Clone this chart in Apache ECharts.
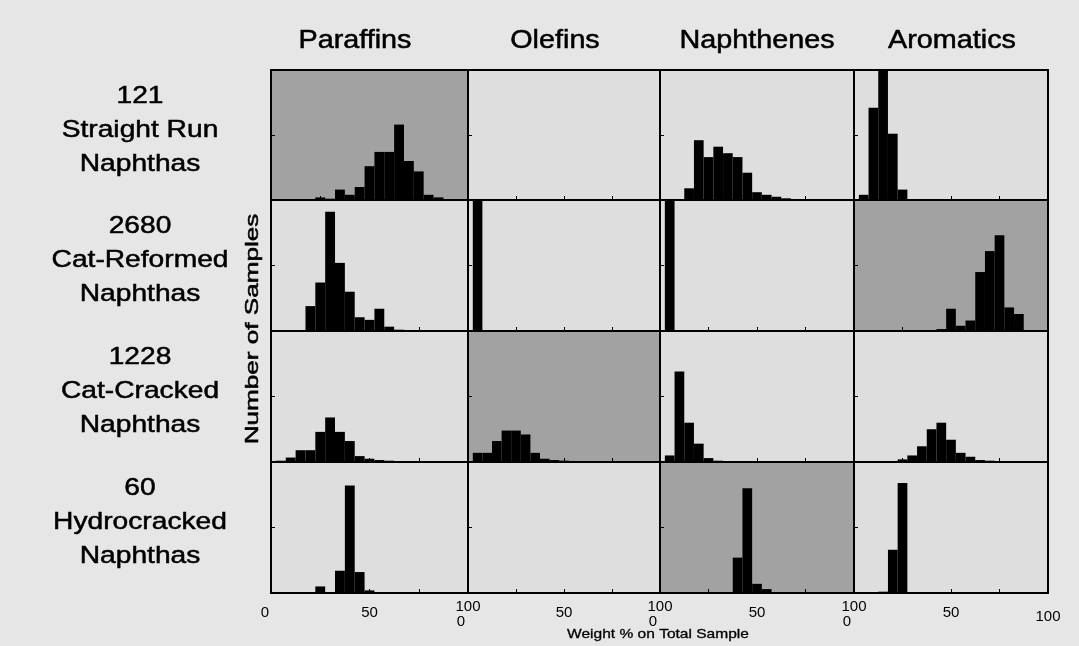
<!DOCTYPE html>
<html><head><meta charset="utf-8">
<script src="https://cdn.jsdelivr.net/npm/echarts@6/dist/echarts.min.js"></script>
<style>html,body{margin:0;padding:0;background:#e6e6e6}#c{width:1079px;height:646px}</style>
</head><body><div id="c"></div>
<script>
// ---- data ----
const binCentres = [0,5,10,15,20,25,30,35,40,45,50,55,60,65,70,75,80,85,90,95,100];
const groups = ['Paraffins','Olefins','Naphthenes','Aromatics'];
const sampleCounts = ['121','2680','1228','60'];
const naphthaTypes = ['Straight Run','Cat-Reformed','Cat-Cracked','Hydrocracked'];

// relative heights (Number of Samples, panel-scaled) per 5 wt% bin
const straightRunParaffins  = [0,0,0,0,0,2,1,8,4,10,26,37,37,58,30,22,4,2,0,0,0];
const straightRunOlefins    = [0,0,0,0,0,0,0,0,0,0,0,0,0,0,0,0,0,0,0,0,0];
const straightRunNaphthenes = [0,0,0,9,46,33,41,36,33,21,6,4,2.5,1.3,0.5,0,0,0,0,0,0];
const straightRunAromatics  = [0,4,71,100,51,8,0.5,0.5,0,0,0,0,0,0,0,0,0,0,0,0,0];

const catReformedParaffins  = [0,0,0,0,19,37,91,52,30,10.5,8.5,17,3.3,1,0,0,0,0,0,0,0];
const catReformedOlefins    = [0,100,0,0,0,0,0,0,0,0,0,0,0,0,0,0,0,0,0,0,0];
const catReformedNaphthenes = [0,100,0,0,0,0,0,0,0,0,0,0,0,0,0,0,0,0,0,0,0];
const catReformedAromatics  = [0,0,0,0,0,0,0,0,0,1.5,17,4,8,45,61,73,18,13,0,0,0];

const catCrackedParaffins   = [0,1,3.4,9,9,23,34,23,16,4.5,2.5,1.5,1,0.5,0,0,0,0,0,0,0];
const catCrackedOlefins     = [0,7,7,16,24,24,21,7,2.5,1.5,1,0.5,0.5,0,0,0,0,0,0,0,0];
const catCrackedNaphthenes  = [0,5,69,30,14,3,1,0.5,0,0,0,0,0,0,0,0,0,0,0,0,0];
const catCrackedAromatics   = [0,0,0.5,0.5,0.5,2,5,12,25,30,17,7,4,1.5,1,0,0,0,0,0,0];

const hydrocrackedParaffins  = [0,0,0,0,0,5,0,17,82,16,2,0,0,0,0,0,0,0,0,0,0];
const hydrocrackedOlefins    = [0,0,0,0,0,0,0,0,0,0,0,0,0,0,0,0,0,0,0,0,0];
const hydrocrackedNaphthenes = [0,0,0,0,0,0,0,0,27,80,7,3,0,0,0,0,0,0,0,0,0];
const hydrocrackedAromatics  = [0,0,0,1,33,84,0,0,0,0,0,0,0,0,0,0,0,0,0,0,0];

const panels = [
  [straightRunParaffins, straightRunOlefins, straightRunNaphthenes, straightRunAromatics],
  [catReformedParaffins, catReformedOlefins, catReformedNaphthenes, catReformedAromatics],
  [catCrackedParaffins, catCrackedOlefins, catCrackedNaphthenes, catCrackedAromatics],
  [hydrocrackedParaffins, hydrocrackedOlefins, hydrocrackedNaphthenes, hydrocrackedAromatics]
];

// ---- layout / style ----
const colLefts = [271, 468, 660, 854];
const colRight = 1048;
const rowTops = [70, 200, 331, 462];
const rowBottom = 593;
const shaded = [[1,0,0,0],[0,0,0,1],[0,1,0,0],[0,0,1,0]];
const darkBg = '#a2a2a2', lightBg = '#dedede';
const FONT = '"Liberation Sans", Arial, sans-serif';

const grids = [], xAxes = [], yAxes = [], series = [];
for (let r = 0; r < 4; r++) {
  for (let c = 0; c < 4; c++) {
    const idx = r * 4 + c;
    const left = colLefts[c];
    const w = (c < 3 ? colLefts[c + 1] : colRight) - left;
    const top = rowTops[r];
    const h = (r < 3 ? rowTops[r + 1] : rowBottom) - top;
    grids.push({left: left, top: top, width: w, height: h, show: true,
      backgroundColor: shaded[r][c] ? darkBg : lightBg, borderColor: '#000', borderWidth: 2});
    const isBottom = r === 3;
    const tok = {fontSize: 15, lineHeight: 15, fontFamily: FONT, color: '#000'};
    xAxes.push({type: 'value', gridIndex: idx, min: 0, max: 100, interval: 25,
      axisLine: {show: false}, splitLine: {show: false},
      axisTick: {show: true, inside: true, length: 4, lineStyle: {color: '#000', width: 1}},
      axisLabel: {show: isBottom, margin: 6, color: '#000', fontFamily: FONT, fontSize: 15,
        formatter: function (v) {
          if (v === 25 || v === 75) return '';
          if (v === 0) return c === 0 ? '{first|0}' : '{lo|0}';
          if (v === 50) return '{mid|50}';
          return c === 3 ? '{end|100}' : '{hi|100}';
        },
        rich: {
          hi: Object.assign({}, tok, {padding: [0, 0, 0, 0]}),
          mid: Object.assign({}, tok, {padding: [13, 0, 0, 0]}),
          first: Object.assign({}, tok, {padding: [13, 12, 0, 0]}),
          lo: Object.assign({}, tok, {padding: [30, 14, 0, 0]}),
          end: Object.assign({}, tok, {padding: [21, 0, 0, 0]})
        }}
    });
    yAxes.push({type: 'value', gridIndex: idx, min: 0, max: 100, interval: 50,
      axisLine: {show: false}, splitLine: {show: false},
      axisTick: {show: true, inside: true, length: 4, lineStyle: {color: '#000', width: 1}},
      axisLabel: {show: false}});
    series.push({type: 'bar', xAxisIndex: idx, yAxisIndex: idx, barWidth: w / 20, clip: true,
      itemStyle: {color: '#000'}, silent: true,
      data: binCentres.map((x, k) => [x, panels[r][c][k]])});
  }
}

function txt(text, x, y, size, sx, extra) {
  return Object.assign({type: 'text', x: x, y: y, scaleX: sx,
    style: {text: text, fontSize: size, fontFamily: FONT, fill: '#000', stroke: '#000', lineWidth: 0.5,
      align: 'center', verticalAlign: 'middle', textAlign: 'center', textVerticalAlign: 'middle'}}, extra || {});
}
const graphics = [];
const headerX = [355, 555, 757, 952];
groups.forEach((g, c) => graphics.push(txt(g, headerX[c], 41, 25, 1.15)));
sampleCounts.forEach((n, r) => {
  const rc = (rowTops[r] + (r < 3 ? rowTops[r + 1] : rowBottom)) / 2 - 5;
  const t = txt(n + '\n' + naphthaTypes[r] + '\nNaphthas', 140, rc, 24.5, 1.15);
  t.style.lineHeight = 34;
  graphics.push(t);
});
graphics.push(txt('Number of Samples', 253, 329, 18, 1.45, {rotation: Math.PI / 2}));
const wt = txt('Weight % on Total Sample', 658, 634, 13.5, 1.15);
wt.style.lineWidth = 0.3;
graphics.push(wt);

const chart = echarts.init(document.getElementById('c'), null, {renderer: 'canvas'});
chart.setOption({
  backgroundColor: '#e6e6e6',
  animation: false,
  grid: grids, xAxis: xAxes, yAxis: yAxes, series: series,
  graphic: {elements: graphics}
});
</script></body></html>
